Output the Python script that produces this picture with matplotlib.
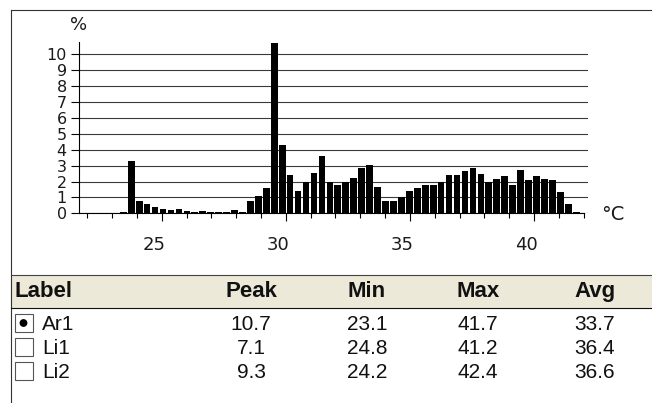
import matplotlib
matplotlib.use('Agg')  # no display
import matplotlib.pyplot as plt
import matplotlib.transforms as mtransforms
from matplotlib.patches import Rectangle, Circle
import numpy as np

# histogram, % of pixels per temperature bin
hist_pct = [0.1, 3.3, 0.8, 0.6, 0.4, 0.3, 0.2, 0.3, 0.15, 0.1,
            0.15, 0.1, 0.1, 0.1, 0.2, 0.1, 0.8, 1.1, 1.6, 10.7,
            4.3, 2.4, 1.4, 1.95, 2.55, 3.6, 1.95, 1.8, 1.95, 2.2,
            2.85, 3.05, 1.65, 0.8, 0.8, 1.05, 1.4, 1.6, 1.8, 1.8,
            1.95, 2.4, 2.4, 2.65, 2.85, 2.45, 1.95, 2.15, 2.35, 1.8,
            2.7, 2.1, 2.35, 2.15, 2.1, 1.35, 0.6, 0.1]
x_major = [25, 30, 35, 40]
y_ticks = list(range(0, 11))

# table below the chart
headers = ['Label', 'Peak', 'Min', 'Max', 'Avg']
labels = ['Ar1', 'Li1', 'Li2']
peak = [10.7, 7.1, 9.3]
mins = [23.1, 24.8, 24.2]
maxs = [41.7, 41.2, 42.4]
avgs = [33.7, 36.4, 36.6]
selected = [True, False, False]

W, H = 652, 403
BAR_LEFT = 23.32
BIN_WIDTH = 0.32
XMIN, XMAX = 21.67, 42.17

fig = plt.figure(figsize=(W / 100, H / 100), dpi=100)

# background layer in pixel coordinates
bg = fig.add_axes([0, 0, 1, 1])
bg.set_xlim(0, W)
bg.set_ylim(H, 0)
bg.axis('off')

line_c = '#333333'
bg.plot([11, W], [9.5, 9.5], color=line_c, lw=0.8)
bg.plot([11, 11], [9.5, H], color=line_c, lw=0.8)

# chart
ax = fig.add_axes([79 / W, (H - 213.3) / H, 509 / W, 171.6 / H])
edges = BAR_LEFT + BIN_WIDTH * np.arange(len(hist_pct))
ax.bar(edges, hist_pct, width=BIN_WIDTH * 0.84, align='edge',
       color='black', linewidth=0, zorder=3)

ax.set_xlim(XMIN, XMAX)
ax.set_ylim(0, 10.8)
ax.set_axisbelow(True)
ax.set_yticks(y_ticks)
ax.yaxis.grid(True, color='#3a3a3a', linewidth=0.8)
ax.set_xticks(x_major)
ax.set_xticks(np.arange(22, 43), minor=True)

for s in ['top', 'right']:
    ax.spines[s].set_visible(False)
for s in ['left', 'bottom']:
    ax.spines[s].set_linewidth(0.8)
ax.spines['bottom'].set_bounds(XMIN, 42)

ax.tick_params(axis='y', length=5.8, width=0.8, pad=3, labelsize=11.5,
               labelcolor='#1a1a1a')
ax.tick_params(axis='x', which='major', length=5.8, width=0.8, pad=10.5,
               labelsize=13, labelcolor='#1a1a1a')
ax.tick_params(axis='x', which='minor', length=3.4, width=0.8)

shift = mtransforms.ScaledTranslation(-8 / 100, 0, fig.dpi_scale_trans)
for lab in ax.get_xticklabels():
    lab.set_transform(lab.get_transform() + shift)

bg.text(79, 25, '%', ha='center', va='center', fontsize=13, color='#1a1a1a')
bg.text(613, 215, '°C', ha='center', va='center', fontsize=14, color='#1a1a1a')

# table header
bg.add_patch(Rectangle((11, 274.5), W - 11, 33, facecolor='#ECE9D8',
                       edgecolor='none'))
bg.plot([11, W], [274.5, 274.5], color='#444444', lw=0.8)
bg.plot([11, W], [307.5, 307.5], color='#111111', lw=0.8)

col_x = [14, 251, 367, 478, 595]
tfont = dict(family='Liberation Sans', color='#111111')
bg.text(col_x[0], 297, headers[0], ha='left', va='baseline',
        fontweight='bold', fontsize=16, **tfont)
for cx, h in zip(col_x[1:], headers[1:]):
    bg.text(cx, 297, h, ha='center', va='baseline', fontweight='bold',
            fontsize=16, **tfont)

row_base = [330, 354, 378]
for i, lab in enumerate(labels):
    yb = row_base[i]
    yc = yb - 7
    bg.add_patch(Rectangle((14.5, yc - 9), 18, 18, facecolor='white',
                           edgecolor='#555555', lw=0.8))
    if selected[i]:
        bg.add_patch(Circle((23.5, yc), 3.2, color='black'))
    bg.text(42, yb, lab, ha='left', va='baseline', fontsize=15, **tfont)
    vals = [peak[i], mins[i], maxs[i], avgs[i]]
    for cx, v in zip(col_x[1:], vals):
        bg.text(cx, yb, f'{v:.1f}', ha='center', va='baseline',
                fontsize=15, **tfont)

fig.savefig('out.png', dpi=100)
